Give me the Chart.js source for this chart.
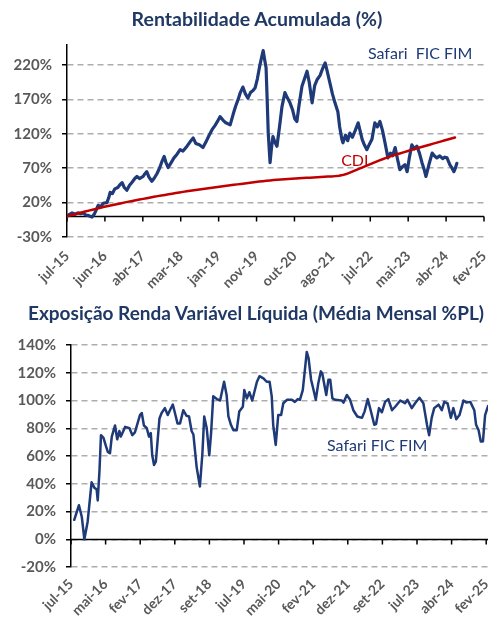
<!DOCTYPE html>
<html><head><meta charset="utf-8">
<script src="https://cdn.jsdelivr.net/npm/chart.js@4.4.1/dist/chart.umd.min.js"></script>
<style>
html,body{margin:0;padding:0;background:#fff;}
body{width:488px;height:619px;position:relative;overflow:hidden;font-family:Lato,"Open Sans",sans-serif;}
.title{position:absolute;color:#1F3864;font-weight:bold;white-space:nowrap;transform:translateX(-50%);line-height:22px;}
#t1{left:257px;top:8px;font-size:19.5px;}
#t2{left:256px;top:302px;font-size:19px;}
.box{position:absolute;left:0;width:488px;}
#b1{top:0;height:300px;}
#b2{top:300px;height:319px;}
</style></head>
<body>
<div class="box" id="b1"><canvas id="c1" width="488" height="300"></canvas></div>
<div class="box" id="b2"><canvas id="c2" width="488" height="319"></canvas></div>
<div class="title" id="t1">Rentabilidade Acumulada (%)</div>
<div class="title" id="t2">Exposição Renda Variável Líquida (Média Mensal %PL)</div>
<script>
// ---- Data (x = months since jul-15) ----
const topXLabels = ['jul-15','jun-16','abr-17','mar-18','jan-19','nov-19','out-20','ago-21','jul-22','mai-23','abr-24','fev-25'];
const topYTicks = [-30, 20, 70, 120, 170, 220];
const bottomXLabels = ['jul-15','mai-16','fev-17','dez-17','set-18','jul-19','mai-20','fev-21','dez-21','set-22','jul-23','abr-24','fev-25'];
const bottomYTicks = [-20, 0, 20, 40, 60, 80, 100, 120, 140];

const safariReturn = [[0,0],[0.7,3],[1.4,5],[2.2,3],[3,5],[3.8,4],[4.4,5],[5.2,2],[6,1],[6.9,-1],[7.5,3],[8.1,10],[8.6,16],[9.3,14],[10,19],[11,20],[11.5,27],[11.9,35],[12.5,33],[13.2,40],[14,42],[14.6,46],[15.2,49],[15.8,42],[16.5,38],[17.2,45],[18,50],[18.7,55],[19.3,58],[20,55],[21,58],[21.5,62],[22,65],[22.6,57],[23.4,51],[24,55],[24.8,62],[25.6,71],[26.2,80],[26.8,87],[27.3,78],[27.9,71],[28.6,77],[29.5,85],[30.3,90],[31.2,97],[32,95],[33.1,102],[33.9,108],[34.8,114],[35.5,106],[36.5,104],[37.5,100],[38.3,108],[39.2,118],[40,126],[40.8,132],[41.5,138],[42.2,145],[43,140],[43.8,136],[45,133],[45.8,148],[46.5,160],[47.2,170],[47.8,180],[48.5,188],[49.2,178],[49.9,172],[50.6,180],[51.3,183],[51.9,187],[52.5,200],[53.2,220],[53.7,232],[54.1,241],[54.5,228],[54.9,216],[55.2,170],[55.5,121],[56,78],[56.4,100],[56.8,116],[57.3,108],[57.9,102],[58.6,130],[59.3,160],[60.1,180],[60.8,172],[61.5,165],[62.2,155],[62.8,142],[63.4,138],[64,162],[64.8,189],[65.5,200],[66.2,211],[66.8,195],[67.6,165],[68.3,190],[69,199],[69.8,205],[70.5,215],[71.2,223],[71.8,210],[72.5,194],[73.2,178],[73.9,165],[74.7,152],[75.2,130],[75.8,112],[76.1,107],[76.8,118],[77.4,110],[78,121],[78.7,115],[79.5,125],[80.3,136],[80.8,125],[81.4,112],[82,104],[82.7,97],[83.4,105],[84.1,112],[84.9,136],[85.6,130],[86.3,138],[87,125],[87.7,107],[88.5,85],[89.2,92],[89.8,88],[90.5,100],[91.2,82],[91.8,68],[92.5,72],[93.2,75],[93.8,65],[94.4,85],[95.1,104],[95.8,98],[96.5,102],[97.2,92],[97.9,78],[98.5,68],[99,58],[99.8,75],[100.7,92],[101.3,88],[102,85],[102.8,88],[103.6,84],[104.2,86],[104.8,85],[105.6,75],[106.2,70],[106.7,65],[107.1,70],[107.5,77]];

const cdiReturn = [0,1.4,2.8,4.2,5.6,7,8.3,9.6,10.9,12.2,13.5,14.7,15.9,17,18.1,19.2,20.3,21.4,22.4,23.4,24.4,25.4,26.4,27.4,28.4,29.4,30.3,31.2,32.1,33,33.9,34.8,35.6,36.4,37.2,38,38.8,39.5,40.2,40.9,41.6,42.3,43,43.7,44.4,45.1,45.8,46.5,47.2,47.9,48.6,49.3,50,50.6,51.2,51.8,52.3,52.8,53.2,53.6,54,54.4,54.8,55.1,55.4,55.7,56,56.3,56.6,56.9,57.2,57.5,57.8,58.1,58.5,59,60,61.5,63.5,65.7,67.9,70.1,72.3,74.5,76.7,78.9,81,83,85,86.9,88.6,90.2,91.8,93.4,95,96.6,98.2,99.7,101.2,102.7,104.2,105.7,107.2,108.7,110.2,111.7,113.2,114.7];

const safariExposure = [[0.9,14],[2.2,24.5],[3,16],[3.7,0],[4.6,12.5],[5.3,30.5],[5.7,41],[6.5,37],[7.1,36],[7.4,28],[7.9,50],[8.3,75],[9,73],[9.7,67],[10.2,63],[10.8,62],[11.3,74],[12.2,82],[12.8,72],[13.4,78],[13.8,74],[14.5,78],[15,81],[16.2,80],[17,75],[17.7,77],[19.1,89.5],[19.6,91],[20.2,82],[21,80],[21.6,74],[22.1,76.5],[22.5,60.5],[23,53.5],[23.5,56],[24.5,87],[25.1,91],[26,94.5],[26.8,89.5],[27.4,93],[28.2,97],[28.6,93],[29.5,83.5],[30.2,83.5],[31.1,93],[32,89],[32.7,88.5],[33.4,78],[33.9,75.5],[34.8,52],[35.7,38],[36.4,62],[36.9,88.5],[37.6,80],[38.3,60.5],[38.8,76.5],[39.4,103],[40.4,101],[41.3,100],[42.4,113.5],[43.1,104],[43.6,88.5],[44.3,82.5],[45,78.5],[45.9,78.5],[46.6,92],[47.6,95.5],[48,107.5],[48.7,101.5],[49.4,106],[50.2,100],[51.5,113.5],[52.2,117.5],[53.3,116],[54.2,113.5],[55,113.5],[55.6,103],[56,82.5],[56.7,68],[57.4,89.5],[58.2,89.5],[58.8,98],[59.8,100.5],[61.2,100.5],[62,99],[62.8,101],[63.4,100.5],[64.2,107.5],[65.3,135],[65.8,130.5],[66.5,115],[67.1,108.5],[67.8,100.5],[68.5,112.5],[69.2,121],[69.6,119.5],[70.7,104],[71.3,115],[71.8,115],[72.4,101.5],[73.2,100.5],[75,100],[75.5,98.5],[76.4,104],[77.3,100.5],[78.2,93],[79.3,88.5],[80.6,87.5],[81.3,92],[82.2,101],[83,93],[84,82.5],[84.5,83],[85.3,94.5],[86.1,91.5],[87,99],[87.9,101],[88.9,93],[89.8,95.5],[91.2,100],[92.5,98],[93.2,100.5],[94.4,94.5],[95.3,98],[96.5,102],[97.6,98],[98.6,82.5],[99.2,75],[99.9,87.5],[100.6,94.5],[101.8,97],[102.7,93],[103.4,99],[104.3,98],[105.2,87.5],[105.9,94.5],[106.7,86.5],[107.6,89.5],[108.7,100],[109.5,98.5],[110.6,99],[111.7,93],[112.2,82.5],[112.9,78.5],[113.5,70.5],[114.1,70.5],[114.7,89.5],[115.5,96]];

// ---- Styles ----
const NAVY = '#1F3A78';
const RED = '#C00000';
const YFONT = {family: 'Lato', size: 15, weight: 'bold'};
const XFONT = {family: 'Lato', size: 14, weight: 'bold'};

const zeroAxis = {
  id: 'zeroAxis',
  beforeDatasetsDraw(chart) {
    const {ctx, chartArea, scales: {x, y}} = chart;
    const y0 = Math.round(y.getPixelForValue(0)) + 0.5;
    ctx.save();
    ctx.strokeStyle = '#000';
    ctx.lineWidth = 1.5;
    ctx.beginPath();
    ctx.moveTo(chartArea.left, y0);
    ctx.lineTo(chartArea.right, y0);
    x.ticks.forEach(t => {
      const px = x.getPixelForValue(t.value);
      ctx.moveTo(px, y0);
      ctx.lineTo(px, y0 + 5);
    });
    ctx.stroke();
    ctx.restore();
  }
};

const textNotes = {
  id: 'textNotes',
  afterDatasetsDraw(chart, args, opts) {
    const {ctx, scales: {x, y}} = chart;
    (opts.items || []).forEach(it => {
      ctx.save();
      ctx.font = it.font;
      ctx.fillStyle = it.color;
      ctx.textBaseline = 'middle';
      ctx.textAlign = 'left';
      ctx.fillText(it.text, x.getPixelForValue(it.x), y.getPixelForValue(it.y));
      ctx.restore();
    });
  }
};

function makeOptions(cfg) {
  return {
    responsive: false,
    animation: false,
    devicePixelRatio: 1,
    layout: {padding: {top: cfg.padTop, right: cfg.padRight, left: 0, bottom: 0}},
    plugins: {
      legend: {display: false},
      tooltip: {enabled: false},
      textNotes: {items: cfg.notes}
    },
    elements: {point: {radius: 0}, line: {tension: 0, borderJoinStyle: 'round', borderCapStyle: 'round'}},
    scales: {
      x: {
        type: 'linear',
        min: 0, max: cfg.xMax,
        afterBuildTicks: s => { s.ticks = cfg.xLabels.map((l, i) => ({value: i * cfg.xSpan / (cfg.xLabels.length - 1)})); },
        afterFit: s => { s.height = cfg.xHeight; s.paddingLeft = 0; s.paddingRight = 0; },
        grid: {display: false, drawTicks: false},
        border: {display: false},
        ticks: {
          autoSkip: false, maxRotation: 45, minRotation: 45,
          padding: cfg.xPad,
          color: '#595959', font: XFONT,
          callback: (v, i) => cfg.xLabels[i]
        }
      },
      y: {
        min: cfg.yMin, max: cfg.yMax,
        afterBuildTicks: s => { s.ticks = cfg.yTicks.map(v => ({value: v})); },
        afterFit: s => { s.width = cfg.yWidth; s.paddingTop = 0; s.paddingBottom = 0; },
        grid: {
          color: '#ADADAD', lineWidth: 1.5,
          drawTicks: true, tickLength: 5, tickColor: '#000', tickWidth: 1.5, tickBorderDash: [10, 0]
        },
        border: {display: true, color: '#000', width: 1.5, dash: [6, 4]},
        ticks: {padding: 10, color: '#595959', font: YFONT, callback: v => v + '%'}
      }
    }
  };
}

new Chart(document.getElementById('c1'), {
  type: 'line',
  data: {
    datasets: [
      {data: cdiReturn.map((v, i) => ({x: i, y: v})), borderColor: RED, borderWidth: 2.5},
      {data: safariReturn.map(p => ({x: p[0], y: p[1]})), borderColor: NAVY, borderWidth: 3.2}
    ]
  },
  options: makeOptions({
    padTop: 44.4, padRight: 4, xMax: 115, xSpan: 115, xLabels: topXLabels, xHeight: 63, xPad: 11,
    yMin: -30, yMax: 250, yTicks: topYTicks, yWidth: 67,
    notes: [
      {text: 'Safari  FIC FIM', x: 83, y: 236, color: NAVY, font: '16px Lato'},
      {text: 'CDI', x: 75.6, y: 81, color: RED, font: '16px Lato'}
    ]
  }),
  plugins: [zeroAxis, textNotes]
});

new Chart(document.getElementById('c2'), {
  type: 'line',
  data: {
    datasets: [
      {data: safariExposure.map(p => ({x: p[0], y: p[1]})), borderColor: NAVY, borderWidth: 2.5}
    ]
  },
  options: makeOptions({
    padTop: 45, padRight: 0, xMax: 115.5, xSpan: 115, xLabels: bottomXLabels, xHeight: 52, xPad: 9,
    yMin: -20, yMax: 140, yTicks: bottomYTicks, yWidth: 71,
    notes: [
      {text: 'Safari FIC FIM', x: 70.9, y: 67, color: NAVY, font: '16px Lato'}
    ]
  }),
  plugins: [zeroAxis, textNotes]
});
</script>
</body></html>
